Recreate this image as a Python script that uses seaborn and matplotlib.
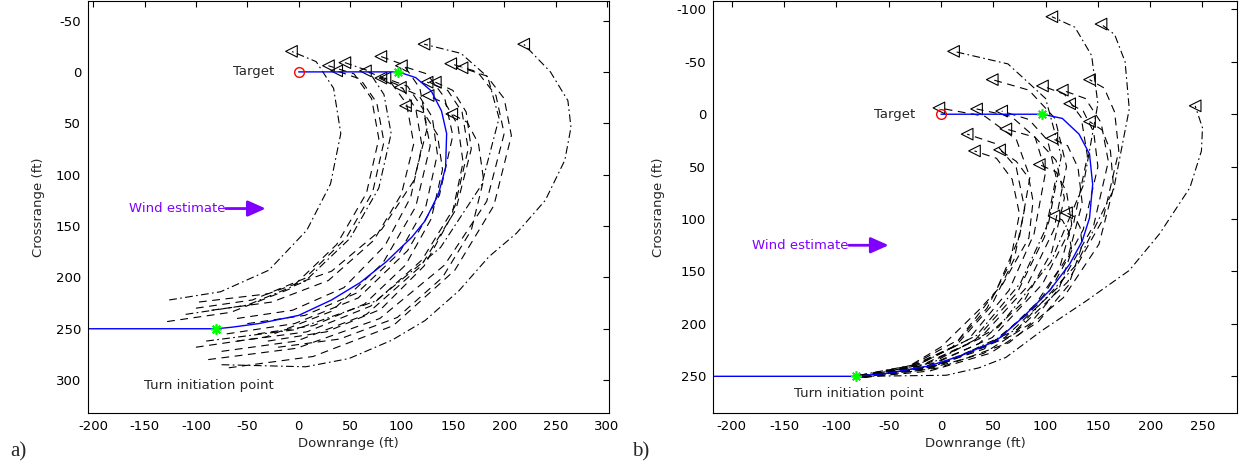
import matplotlib
matplotlib.use("Agg")
import matplotlib.pyplot as plt
import pandas as pd
import seaborn as sns

WIND_COLOR = "#8000ff"
DASHES = {"dash": (7, 5), "dashdot": (7, 3, 1.5, 3)}
FS = 9.5

# ---- panel a: nominal path and simulated trajectories (ft) ----
A_NOM_X = [-215, -80, -65, -39, 0, 32, 60, 85, 110, 123, 136, 143, 144, 139, 129, 114, 97, 60, 0]
A_NOM_Y = [250, 250, 248.5, 245, 237, 222, 205, 185, 161, 145, 119, 93, 60, 38, 18.5, 5.6, 0, 0, 0]
A_TURN = [(-80, 250), (97, 0)]
A_TRAJ_X = [
    [-126, -76, -29, 8, 31, 41, 34, 17, -7],
    [-128, -66, -8, 37, 66, 78, 71, 54, 29],
    [-100, -45, 6, 46, 72, 83, 76, 60, 37],
    [-110, -50, 6, 50, 78, 90, 83, 68, 45],
    [-85, -26, 29, 73, 100, 112, 105, 88, 65],
    [-97, -30, 32, 81, 112, 125, 118, 102, 80],
    [-60, -6, 44, 84, 109, 120, 114, 100, 80],
    [-100, -32, 32, 82, 114, 128, 121, 106, 84],
    [-50, 6, 57, 98, 124, 135, 130, 117, 99],
    [-70, -4, 58, 106, 137, 150, 142, 125, 100],
    [-40, 14, 64, 104, 129, 140, 135, 122, 104],
    [-90, -4, 75, 138, 178, 195, 184, 158, 122],
    [-60, 8, 70, 120, 152, 165, 159, 145, 125],
    [-30, 27, 80, 122, 149, 160, 155, 143, 126],
    [-75, -2, 66, 119, 153, 168, 163, 150, 133],
    [-88, -2, 79, 142, 183, 200, 192, 174, 148],
    [-20, 40, 96, 140, 168, 180, 175, 164, 149],
    [-68, 14, 92, 152, 190, 207, 200, 183, 159],
    [-75, 7, 49, 91, 123, 156, 185, 212, 240, 259, 265, 262, 245, 219],
]
A_TRAJ_Y = [
    [222, 214, 193, 154, 109, 60, 16, -10, -20],
    [243, 234, 211, 168, 118, 65, 26, 2, -6],
    [230, 222, 201, 162, 117, 68, 30, 7, -1],
    [236, 227, 204, 162, 113, 60, 22, -1, -9],
    [232, 224, 203, 164, 119, 70, 31, 8, -1],
    [224, 216, 194, 153, 106, 55, 16, -7, -15],
    [240, 232, 210, 169, 122, 72, 36, 14, 6],
    [268, 258, 233, 186, 131, 72, 36, 14, 6],
    [245, 237, 215, 176, 130, 80, 44, 23, 15],
    [255, 245, 220, 174, 120, 62, 25, 2, -6],
    [255, 247, 226, 188, 143, 95, 61, 40, 33],
    [262, 251, 223, 171, 110, 45, 5, -18, -27],
    [262, 253, 228, 183, 131, 75, 39, 18, 10],
    [262, 253, 231, 189, 140, 88, 52, 31, 23],
    [272, 262, 236, 189, 134, 75, 39, 18, 10],
    [280, 269, 240, 188, 126, 60, 23, 0, -8],
    [268, 260, 239, 200, 154, 105, 70, 49, 41],
    [288, 277, 247, 193, 130, 62, 26, 4, -4],
    [285, 287, 279, 261, 242, 213, 180, 157, 125, 86, 54, 28, 0, -27],
]
A_TRAJ_STYLE = ["dashdot", "dash", "dash", "dashdot", "dash", "dash", "dash", "dash", "dash", "dash",
                "dash", "dashdot", "dash", "dash", "dash", "dash", "dash", "dash", "dashdot"]

# ---- panel b ----
B_NOM_X = [-225, -81, -50, -11, 20, 53, 78, 104, 123, 135, 142, 145, 142, 132, 116, 97, 50, 0]
B_NOM_Y = [250, 250, 247, 240, 230, 216, 194, 168, 143, 121, 99, 67, 38, 19, 4, 0, 0, 0]
B_TURN = [(-81, 250), (97, 0)]
B_TRAJ_X = [
    [-76, -8, 55, 105, 136, 150, 144, 128, 106],
    [-74, 2, 73, 129, 165, 180, 176, 166, 153],
    [-78, -20, 34, 76, 103, 115, 100, 64, 12],
    [-77, -18, 37, 81, 108, 120, 109, 84, 49],
    [-76, -11, 49, 97, 127, 140, 134, 118, 97],
    [-75, -4, 61, 113, 146, 160, 153, 138, 116],
    [-74, -1, 68, 121, 155, 170, 166, 156, 142],
    [-77, -9, 55, 105, 136, 150, 146, 136, 123],
    [-78, -29, 17, 52, 75, 85, 72, 42, -2],
    [-77, -24, 26, 65, 89, 100, 90, 67, 34],
    [-76, -20, 32, 73, 99, 110, 102, 84, 58],
    [-73, -2, 65, 117, 151, 165, 162, 154, 142],
    [-76, 5, 36, 62, 97, 139, 180, 209, 238, 249, 250, 243],
    [-78, -31, 14, 48, 70, 80, 72, 52, 25],
    [-76, -18, 36, 79, 106, 118, 110, 90, 62],
    [-75, -12, 47, 93, 122, 135, 131, 121, 106],
    [-78, -32, 11, 44, 66, 75, 68, 53, 32],
    [-77, -30, 0, 36, 59, 84, 88, 84, 72, 56],
    [-75, -15, 41, 85, 113, 125, 120, 110, 94],
    [-76, -16, 41, 85, 113, 125, 122, 116, 108],
    [-74, -11, 47, 93, 122, 135, 133, 128, 120],
]
B_TRAJ_Y = [
    [250, 237, 203, 141, 68, -10, -56, -83, -93],
    [251, 238, 205, 144, 72, -5, -50, -76, -86],
    [249, 238, 211, 161, 103, 40, -15, -48, -60],
    [250, 240, 214, 166, 110, 50, 4, -23, -33],
    [251, 240, 213, 162, 103, 40, 3, -19, -27],
    [250, 240, 213, 164, 106, 45, 8, -15, -23],
    [250, 239, 211, 160, 100, 35, -2, -25, -33],
    [251, 241, 215, 167, 110, 50, 17, -3, -10],
    [249, 240, 215, 170, 117, 60, 24, 2, -6],
    [250, 240, 215, 168, 114, 55, 22, 2, -5],
    [250, 240, 216, 170, 117, 60, 25, 5, -3],
    [251, 242, 218, 175, 124, 70, 35, 15, 7],
    [250, 249, 242, 232, 206, 178, 149, 114, 70, 35, 13, -8],
    [250, 242, 221, 183, 138, 90, 51, 28, 19],
    [250, 242, 219, 179, 131, 80, 44, 22, 14],
    [250, 242, 220, 181, 134, 85, 51, 30, 23],
    [250, 242, 222, 185, 142, 95, 62, 42, 35],
    [250, 240, 222, 187, 162, 118, 83, 61, 45, 34],
    [250, 243, 224, 189, 148, 105, 74, 55, 48],
    [250, 244, 228, 200, 166, 130, 112, 101, 97],
    [251, 245, 228, 198, 163, 125, 108, 98, 94],
]
B_TRAJ_STYLE = ["dashdot", "dashdot", "dashdot", "dash", "dash", "dash", "dash", "dash", "dash", "dash",
                "dash", "dash", "dashdot", "dash", "dash", "dash", "dash", "dash", "dash", "dash", "dash"]

TARGET = (0, 0)


def traj_frame(traj_x, traj_y, styles):
    rows = []
    for i, (tx, ty, st) in enumerate(zip(traj_x, traj_y, styles)):
        for x, y in zip(tx, ty):
            rows.append((i, x, y, st))
    return pd.DataFrame(rows, columns=["traj", "x", "y", "style"])


def draw_panel(ax, nom_x, nom_y, turn, traj_x, traj_y, styles, cfg):
    df = traj_frame(traj_x, traj_y, styles)
    sns.lineplot(data=df, x="x", y="y", units="traj", estimator=None, sort=False,
                 style="style", dashes=DASHES, color="black", linewidth=0.8,
                 legend=False, ax=ax)
    ends = df.groupby("traj").last().reset_index()
    sns.scatterplot(data=ends, x="x", y="y", marker="<", s=70, color="black",
                    facecolor="none", edgecolor="black", linewidth=0.8, legend=False, ax=ax)

    sns.lineplot(x=nom_x, y=nom_y, sort=False, estimator=None, color="#0000ff",
                 linewidth=1.0, ax=ax)
    ax.plot([p[0] for p in turn], [p[1] for p in turn], linestyle="none",
            marker=(8, 2, 0), markersize=7.5, markeredgewidth=1.2, color="#00ff00", zorder=5)
    ax.plot([TARGET[0]], [TARGET[1]], linestyle="none", marker="o", markersize=7,
            markerfacecolor="none", markeredgecolor="#ff0000", markeredgewidth=1.0, zorder=5)

    ax.text(cfg["target_x"], 0, "Target", ha="right", va="center", fontsize=FS)
    ax.text(cfg["turn_txt"][0], cfg["turn_txt"][1], "Turn initiation point",
            ha="center", va="center", fontsize=FS)
    wx0, wx1, wy = cfg["wind"]
    ax.text(wx0, wy, "Wind estimate", ha="right", va="center", fontsize=FS, color=WIND_COLOR)
    ax.annotate("", xy=(wx1, wy), xytext=(wx0, wy),
                arrowprops=dict(arrowstyle="-|>,head_length=0.9,head_width=0.4",
                                color=WIND_COLOR, lw=2.0, shrinkA=0, shrinkB=0,
                                mutation_scale=12))

    ax.set_xlim(*cfg["xlim"])
    ax.set_ylim(*cfg["ylim"])
    ax.set_xticks(cfg["xticks"])
    ax.set_yticks(cfg["yticks"])
    ax.set_xlabel("Downrange (ft)", fontsize=FS, labelpad=3)
    ax.set_ylabel("Crossrange (ft)", fontsize=FS, labelpad=8)
    ax.tick_params(direction="in", top=True, right=True, length=4, width=0.8,
                   labelsize=FS, pad=5, colors="black")
    for sp in ax.spines.values():
        sp.set_visible(True)
        sp.set_color("black")
        sp.set_linewidth(0.8)


sns.set_theme(style="white")
plt.rcParams["font.family"] = ["DejaVu Sans"]
plt.rcParams["axes.unicode_minus"] = False

fig = plt.figure(figsize=(12.44, 4.67), dpi=100)
ax_a = fig.add_axes([88 / 1244, 54 / 467, 521 / 1244, 412 / 467])
ax_b = fig.add_axes([713 / 1244, 54 / 467, 524 / 1244, 412 / 467])

draw_panel(ax_a, A_NOM_X, A_NOM_Y, A_TURN, A_TRAJ_X, A_TRAJ_Y, A_TRAJ_STYLE, {
    "target_x": -24, "turn_txt": (-87, 305), "wind": (-71, -32, 133),
    "xlim": (-205, 302), "ylim": (332, -69),
    "xticks": list(range(-200, 301, 50)), "yticks": list(range(-50, 301, 50)),
})
draw_panel(ax_b, B_NOM_X, B_NOM_Y, B_TURN, B_TRAJ_X, B_TRAJ_Y, B_TRAJ_STYLE, {
    "target_x": -25, "turn_txt": (-79, 266), "wind": (-88, -50, 125),
    "xlim": (-218, 283), "ylim": (285, -108),
    "xticks": list(range(-200, 251, 50)), "yticks": list(range(-100, 251, 50)),
})

fig.text(10 / 1244, 1 - 452 / 467, "a)", fontsize=15, family="Liberation Serif", va="center")
fig.text(632 / 1244, 1 - 452 / 467, "b)", fontsize=15, family="Liberation Serif", va="center")

fig.savefig("out.png", dpi=100, facecolor="white")
